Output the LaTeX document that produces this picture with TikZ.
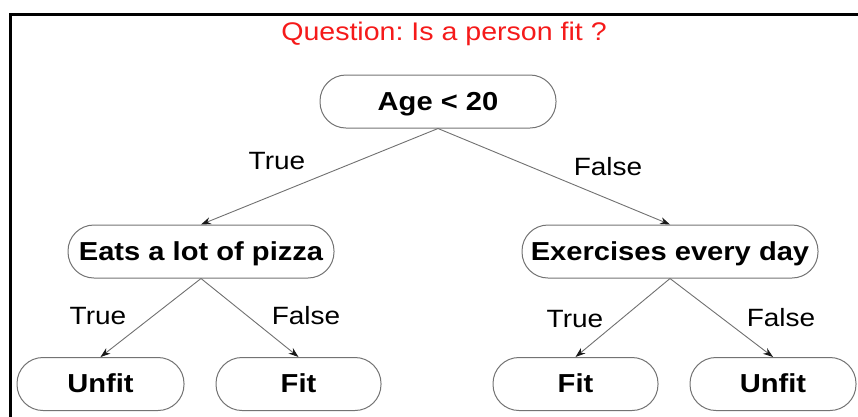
\documentclass[tikz,border=0pt]{standalone}
\usepackage{fontspec}
\setmainfont{Liberation Sans}[FakeStretch=1.12]
\usetikzlibrary{arrows.meta}
\definecolor{boxline}{HTML}{737373}
\definecolor{edgeline}{HTML}{707070}
\definecolor{titlered}{HTML}{F51A1A}
\tikzset{
  decision/.style={draw=boxline, line width=1pt, rounded corners=26pt,
    minimum height=53pt, inner sep=0pt, text height=22pt, text depth=5pt,
    font=\fontsize{26}{30}\selectfont\bfseries},
  branch/.style={draw=edgeline, line width=0.9pt,
    -{Stealth[length=10pt,width=7pt,color=black!90]}},
  answer/.style={font=\fontsize{25}{30}\selectfont},
  frameline/.style={line width=3pt, black}
}
\frenchspacing
\begin{document}
\begin{tikzpicture}[x=1pt, y=-1pt]
  \useasboundingbox (0,0) rectangle (858,416);

  % open frame: left and top rules
  \coordinate (fbl) at (10.8,420);
  \coordinate (ftl) at (10.8,14.2);
  \coordinate (ftr) at (862,14.2);
  \draw[frameline] (fbl) -- (ftl) -- (ftr);

  % title
  \node[text=titlered, font=\fontsize{25.5}{30}\selectfont] (title) at (444,34) {Question: Is a person fit ?};

  % tree nodes
  \node[decision, minimum width=236pt] (age)   at (438,101.5) {Age < 20};
  \node[decision, minimum width=266pt] (pizza) at (201,251.5) {Eats a lot of pizza};
  \node[decision, minimum width=296pt] (exer)  at (670,251.5) {Exercises every day};
  \node[decision, minimum width=167pt] (l1)    at (100.5,384) {Unfit};
  \node[decision, minimum width=165pt] (l2)    at (298.5,384) {Fit};
  \node[decision, minimum width=165pt] (l3)    at (575.5,384) {Fit};
  \node[decision, minimum width=166pt] (l4)    at (773,384) {Unfit};

  % branches
  \draw[branch] (age.south)   -- (pizza.north);
  \draw[branch] (age.south)   -- (exer.north);
  \draw[branch] (pizza.south) -- (l1.north);
  \draw[branch] (pizza.south) -- (l2.north);
  \draw[branch] (exer.south)  -- (l3.north);
  \draw[branch] (exer.south)  -- (l4.north);

  % branch labels
  \node[answer] (t1) at (277,161) {True};
  \node[answer] (f1) at (608,167) {False};
  \node[answer] (t2) at (98,316)  {True};
  \node[answer] (f2) at (306,316) {False};
  \node[answer] (t3) at (575,319) {True};
  \node[answer] (f3) at (781,318) {False};
\end{tikzpicture}
\end{document}
